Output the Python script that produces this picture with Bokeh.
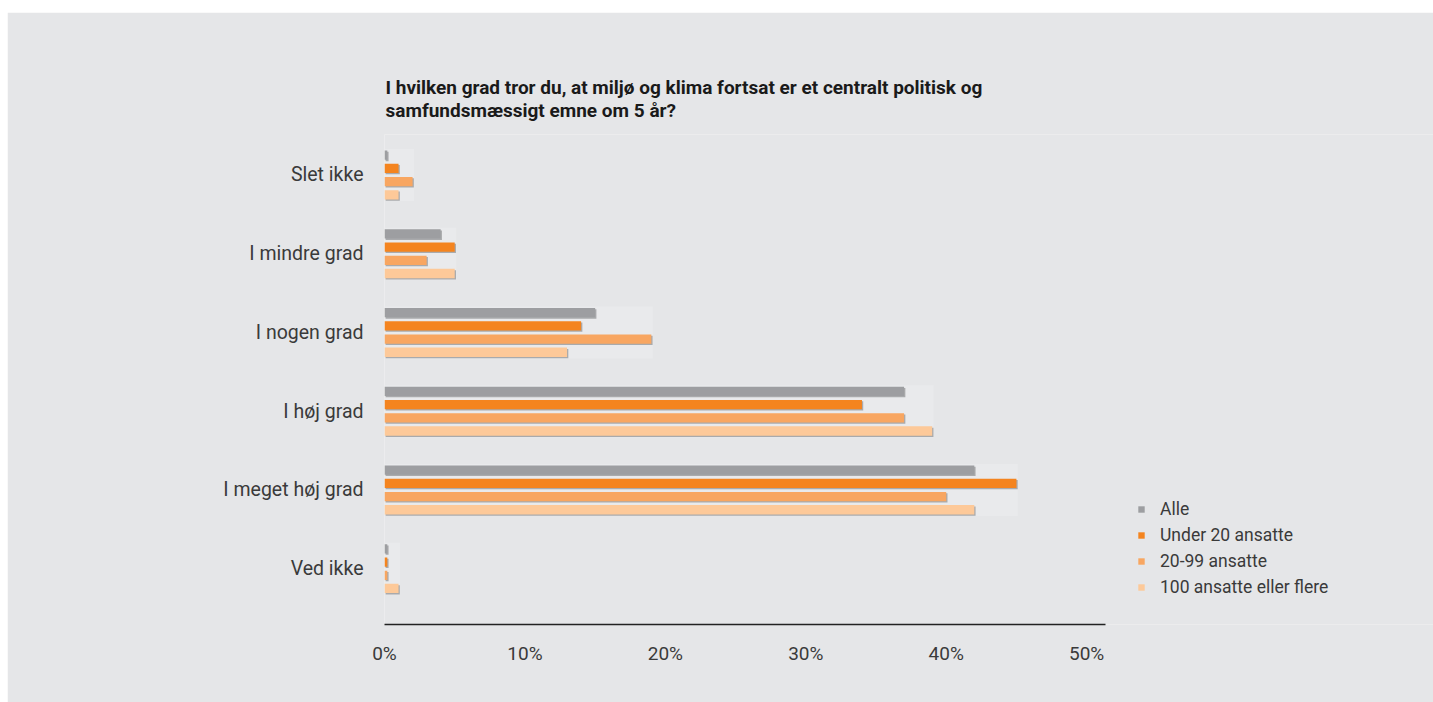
from bokeh.plotting import figure
from bokeh.models import Range1d, FixedTicker, Legend, LegendItem, ColumnDataSource
from bokeh.transform import dodge
from bokeh.embed import file_html
from bokeh.resources import INLINE

# ---------------- data ----------------
categories = ["Slet ikke", "I mindre grad", "I nogen grad", "I høj grad",
              "I meget høj grad", "Ved ikke"]
series_names = ["Alle", "Under 20 ansatte", "20-99 ansatte", "100 ansatte eller flere"]
alle = [0.2, 4, 15, 37, 42, 0.2]
under_20 = [1, 5, 14, 34, 45, 0.2]
ansatte_20_99 = [2, 3, 19, 37, 40, 0.2]
ansatte_100_plus = [1, 5, 13, 39, 42, 1]
x_ticks = [0, 10, 20, 30, 40, 50]
x_tick_labels = ["0%", "10%", "20%", "30%", "40%", "50%"]
title_text = ("I hvilken grad tror du, at miljø og klima fortsat er et centralt politisk og\n"
              "samfundsmæssigt emne om 5 år?")

series = [alle, under_20, ansatte_20_99, ansatte_100_plus]
colors = ["#9d9ea1", "#f4841f", "#f8a661", "#fdc999"]
offsets = [0.2515, 0.084, -0.084, -0.2515]

BG = "#e5e6e8"
FONT = "Roboto"
TXT = "#3a3a3a"

pos = [-i for i in range(len(categories))]

p = figure(width=1426, height=690,
           x_range=Range1d(0, 74.7), y_range=Range1d(-5.709, 0.514),
           output_backend="svg", toolbar_location=None,
           min_border_left=377, min_border_right=0,
           min_border_top=122, min_border_bottom=78)
p.margin = (12, 0, 0, 7)
p.background_fill_color = BG
p.border_fill_color = BG
p.outline_line_color = None
p.xgrid.visible = False
p.ygrid.visible = False

# title (two lines)
p.title.text = title_text
p.title.text_font = FONT
p.title.text_font_style = "bold"
p.title.text_font_size = "19px"
p.title.text_color = "#1a1a1a"
p.title.text_line_height = 1.0
p.title.align = "left"
p.title.offset = 1
p.title.standoff = 25

# light group backgrounds (extend to the group's largest value)
group_max = [max(vals) for vals in zip(*series)]
p.hbar(y=pos, left=0, right=[m + 0.1 for m in group_max], height=0.66,
       fill_color="#e9eaec", line_color=None)

legend_items = []
for name, vals, col, off in zip(series_names, series, colors, offsets):
    src = ColumnDataSource(dict(y=pos, v=vals))
    p.hbar(y=dodge("y", off - 0.017, range=p.y_range), left=0.08,
           right=dodge("v", 0.09, range=p.x_range), height=0.118,
           source=src, fill_color="#a9aaac", line_color=None)
    r = p.hbar(y=dodge("y", off, range=p.y_range), left=0, right="v", height=0.118,
               source=src, fill_color=col, line_color=None)
    legend_items.append(LegendItem(label=name, renderers=[r]))

# x axis (line limited to 0 .. 51.35 %)
xa = p.xaxis[0]
xa.bounds = (0, 51.35)
xa.ticker = FixedTicker(ticks=x_ticks)
xa.major_label_overrides = {t: l for t, l in zip(x_ticks, x_tick_labels)}
xa.axis_line_color = "#222222"
xa.axis_line_width = 1.3
xa.major_tick_line_color = None
xa.minor_tick_line_color = None
xa.major_label_standoff = 11
xa.major_label_text_font = FONT
xa.major_label_text_font_size = "19px"
xa.major_label_text_color = TXT

# y axis
ya = p.yaxis[0]
ya.ticker = FixedTicker(ticks=pos)
ya.major_label_overrides = {t: c for t, c in zip(pos, categories)}
ya.axis_line_color = None
ya.major_tick_line_color = None
ya.minor_tick_line_color = None
ya.major_label_standoff = 15
ya.major_label_text_font = FONT
ya.major_label_text_font_size = "19.5px"
ya.major_label_text_color = TXT

# legend (inside the wide frame, right of the bars)
legend = Legend(items=legend_items, location=(753, 27), orientation="vertical",
                glyph_width=8, glyph_height=8, label_standoff=15,
                label_height=20, spacing=6, padding=0, margin=0,
                border_line_color=None, background_fill_alpha=0,
                label_text_font=FONT, label_text_font_size="17.5px",
                label_text_color=TXT)
p.add_layout(legend, "center")

open("out.html", "w").write(file_html(p, INLINE))
